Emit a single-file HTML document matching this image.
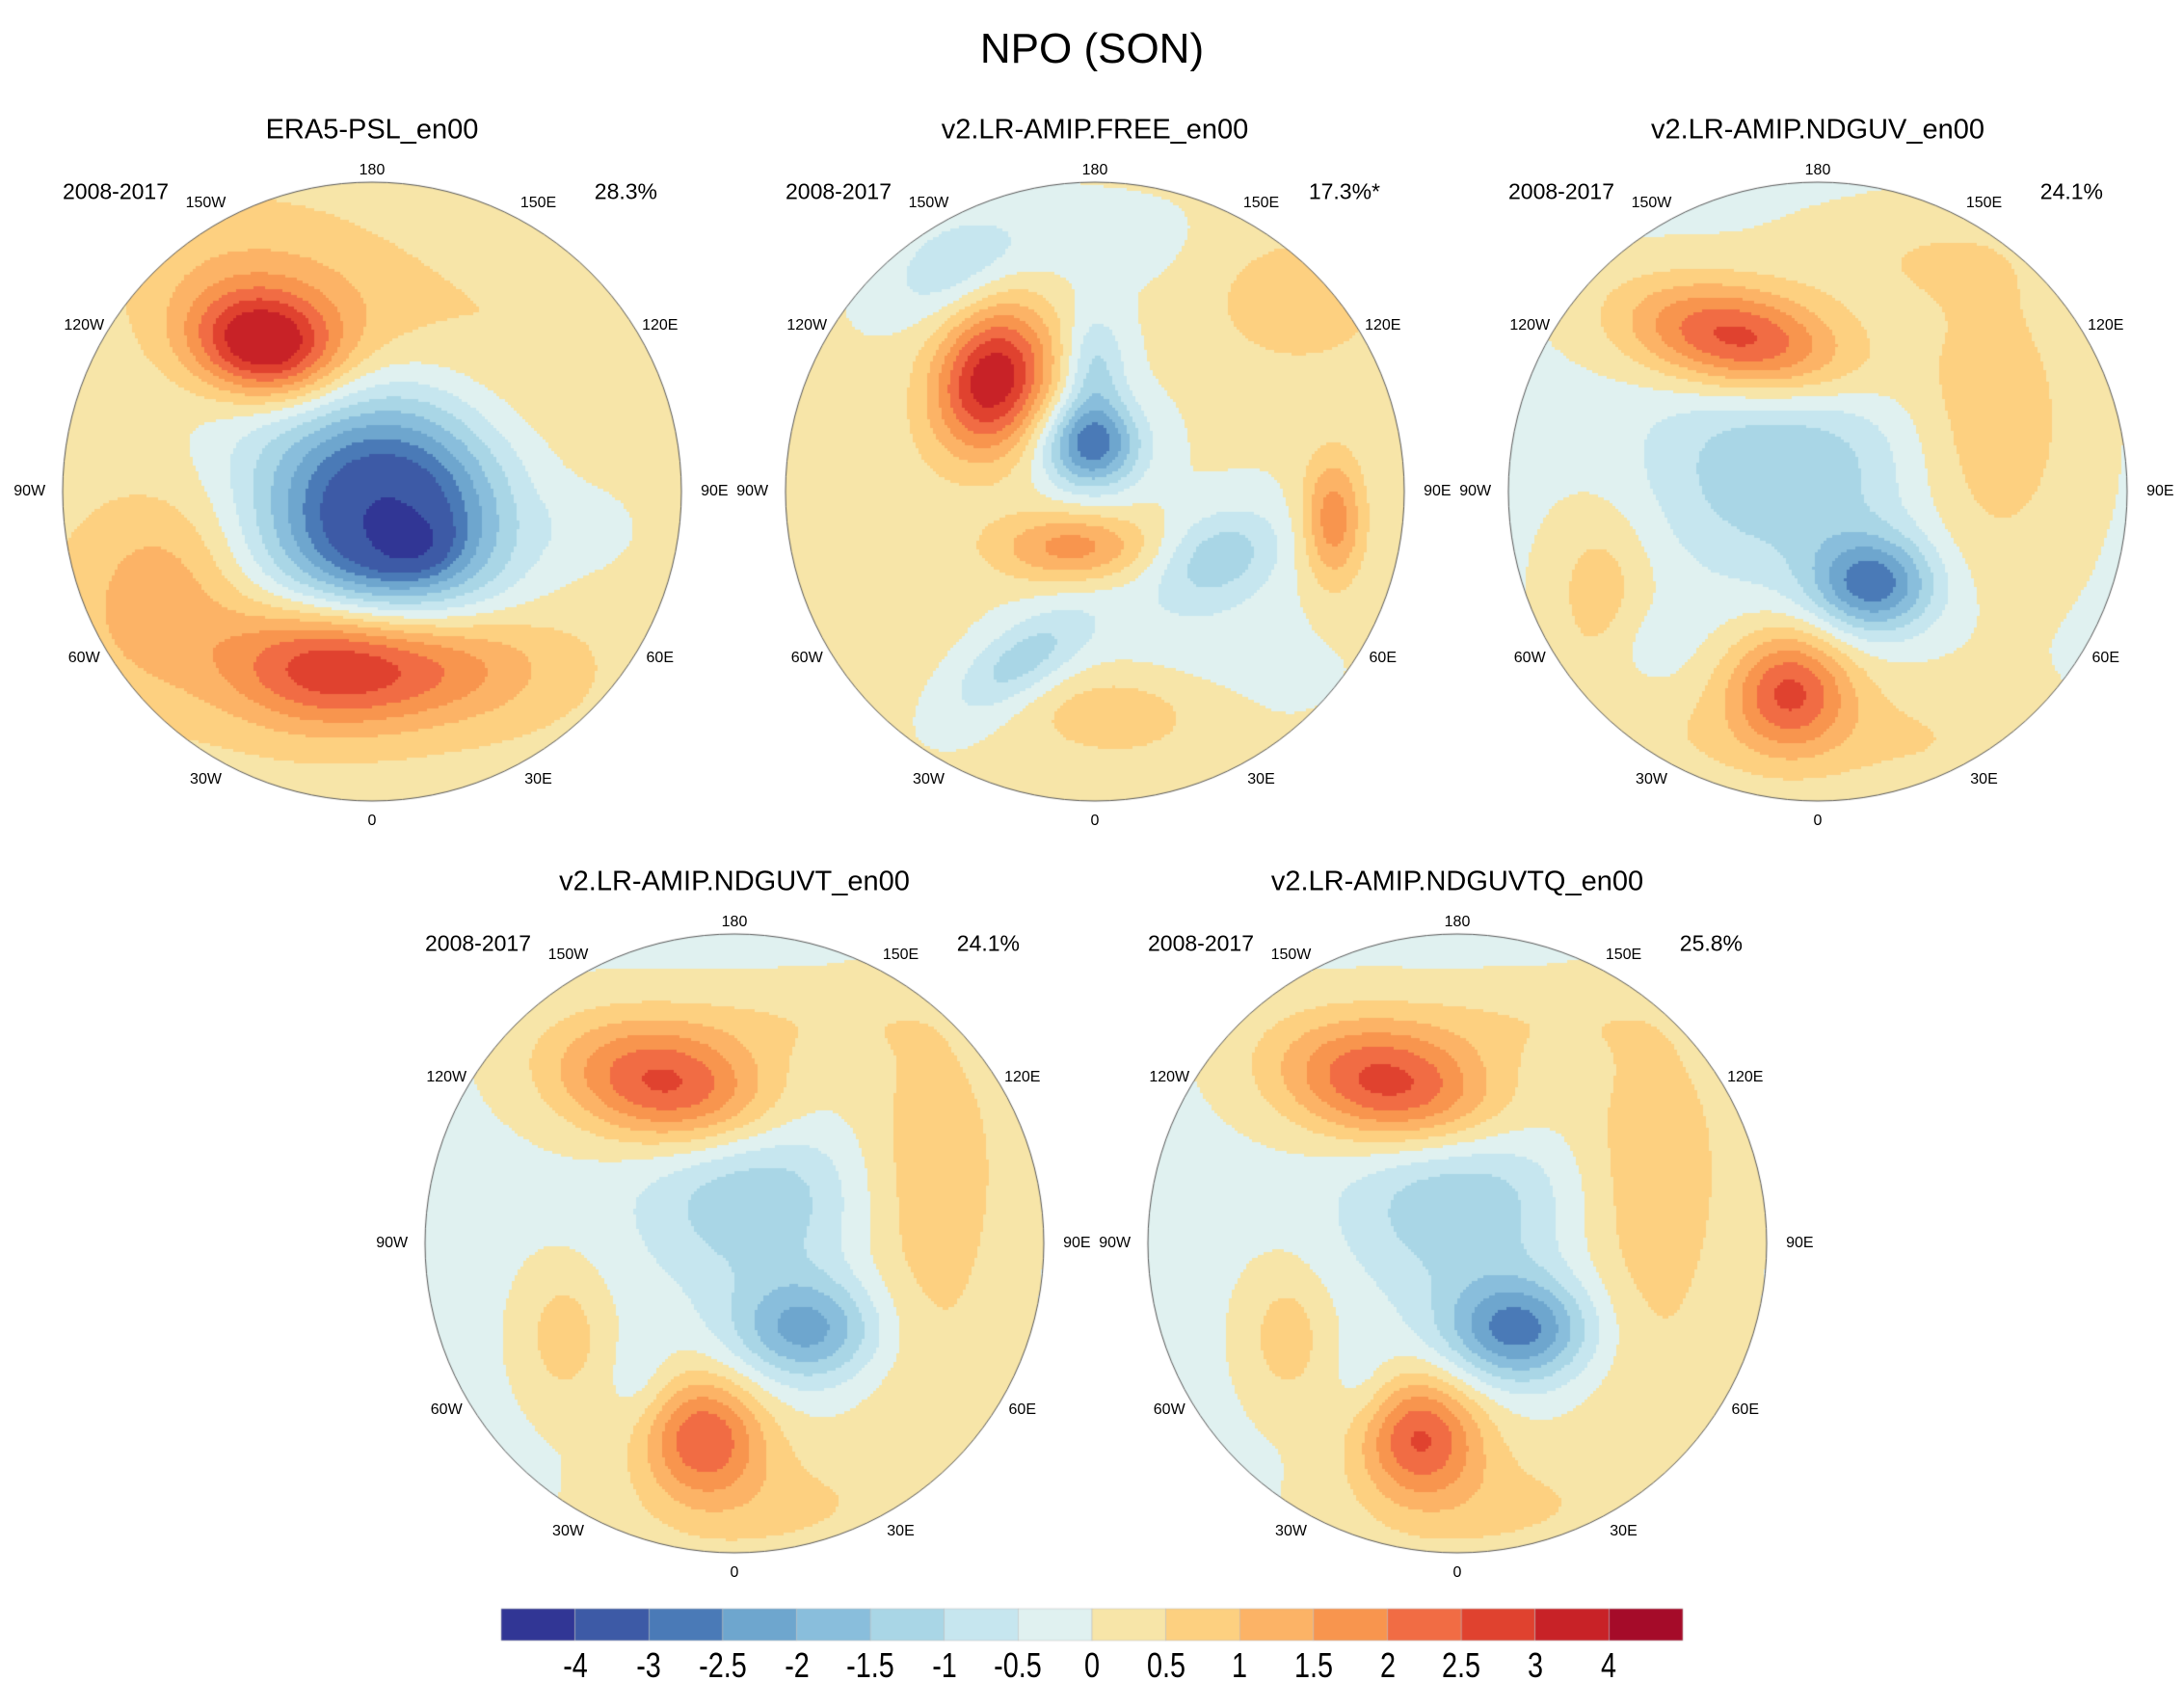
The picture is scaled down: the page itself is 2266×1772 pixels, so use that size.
<!DOCTYPE html>
<html><head><meta charset="utf-8"><style>
body{margin:0;background:#fff;width:2266px;height:1772px;overflow:hidden;position:relative;font-family:"Liberation Sans",sans-serif;}
canvas{position:absolute;left:0;top:0}
.t{position:absolute;white-space:nowrap;color:#000}
</style></head><body>
<canvas id="cv" width="2266" height="1772"></canvas>
<div id="lab"></div>
<script>
// contour levels and colours
const levels=[-4,-3,-2.5,-2,-1.5,-1,-0.5,0,0.5,1,1.5,2,2.5,3,4];
const colors=["#313695","#3d5aa6","#4a7ab7","#6ea6ce","#89bedc","#a9d6e6","#c6e6ef","#e0f1f0","#f7e5a8","#fdd080","#fcb366","#f8954e","#f16c44","#e0422f","#c82227","#a50b29"];
const tickLabels=["-4","-3","-2.5","-2","-1.5","-1","-0.5","0","0.5","1","1.5","2","2.5","3","4"];
const panelTitles=["ERA5-PSL_en00","v2.LR-AMIP.FREE_en00","v2.LR-AMIP.NDGUV_en00","v2.LR-AMIP.NDGUVT_en00","v2.LR-AMIP.NDGUVTQ_en00"];
const panelPct=["28.3%","17.3%*","24.1%","24.1%","25.8%"];
const lonLabels=["0","30E","60E","90E","120E","150E","180","150W","120W","90W","60W","30W"];
// anomaly blobs per panel: [x, y, amplitude, sx, sy, rotation] in unit-disk coords
const base=[0.3,0.05,-0.1,-0.12,-0.12];
const blobs1=[[-0.35,-0.47,3.3,0.17,0.12,0.2],[-0.2,-0.6,1.0,0.35,0.18,0.3],[0.08,0.1,-3.2,0.26,0.26,0],[0.13,0.17,-1.0,0.08,0.06,0],[-0.1,0.02,-1.4,0.35,0.35,0],[-0.14,0.55,3.0,0.25,0.15,0],[0.25,0.55,1.5,0.25,0.14,0],[-0.66,0.3,1.2,0.2,0.25,0.5],[0.45,-0.3,0.3,0.2,0.3,0],[0.72,0.12,-0.4,0.12,0.1,0]];
const blobs2=[[-0.33,-0.36,3.4,0.13,0.17,0.3],[-0.01,-0.15,-2.8,0.11,0.1,0],[0,-0.4,-1.2,0.07,0.13,0],[-0.07,0.18,1.7,0.18,0.08,0],[-0.24,0.55,-1.3,0.18,0.08,-0.6],[0.4,0.21,-1.3,0.15,0.1,-0.4],[0.77,0.09,1.8,0.07,0.15,0],[0.66,-0.62,0.9,0.2,0.15,0],[-0.46,-0.72,-0.9,0.16,0.1,-0.5],[0.07,0.72,0.9,0.2,0.1,0],[-0.75,0.25,0.3,0.2,0.3,0],[-0.1,-0.8,-0.3,0.3,0.1,0],[0.3,0.45,-0.3,0.3,0.2,0]];
const blobs3=[[-0.25,-0.49,3.0,0.26,0.12,0.2],[0.18,0.3,-2.6,0.14,0.11,0],[-0.11,-0.08,-1.4,0.3,0.25,0],[-0.09,0.64,2.5,0.14,0.14,0],[0.56,-0.22,1.0,0.2,0.35,0],[-0.7,0.32,0.9,0.12,0.2,0],[-0.55,0.5,-0.4,0.1,0.1,0],[0.3,0.8,0.6,0.3,0.15,0],[-0.5,0.8,0.5,0.3,0.15,0],[0.3,-0.75,0.5,0.3,0.12,0]];
const blobs4=[[-0.21,-0.51,2.9,0.26,0.14,0.2],[0.06,-0.17,-1.4,0.25,0.22,0],[0.24,0.28,-2.1,0.17,0.12,0],[-0.1,0.62,2.4,0.14,0.14,0],[0.64,-0.26,1.0,0.18,0.35,0],[-0.55,0.3,0.9,0.1,0.16,0],[-0.3,0.45,-0.4,0.07,0.1,0],[0.1,0.85,0.7,0.35,0.15,0],[0.6,0.4,0.4,0.2,0.3,0],[0.2,-0.72,0.5,0.3,0.1,0]];
const blobs5=[[-0.21,-0.51,3.0,0.26,0.14,0.2],[0.0,-0.15,-1.4,0.25,0.22,0],[0.2,0.28,-2.6,0.17,0.12,0],[-0.12,0.62,2.5,0.14,0.14,0],[0.64,-0.26,1.0,0.18,0.35,0],[-0.55,0.3,0.9,0.1,0.16,0],[-0.3,0.45,-0.4,0.07,0.1,0],[0.1,0.85,0.7,0.35,0.15,0],[0.6,0.4,0.4,0.2,0.3,0],[0.2,-0.72,0.5,0.3,0.1,0]];
const allBlobs=[blobs1,blobs2,blobs3,blobs4,blobs5];

const centers=[[386,510],[1136,510],[1886,510],[762,1290],[1512,1290]];
const R=321;
const cv=document.getElementById('cv'),ctx=cv.getContext('2d');
function field(bl,b,x,y){let v=b;for(const k of bl){const c=Math.cos(k[5]),s=Math.sin(k[5]);const dx=x-k[0],dy=y-k[1];const u=(dx*c+dy*s)/k[3],w=(-dx*s+dy*c)/k[4];v+=k[2]*Math.exp(-0.5*(u*u+w*w));}return v;}
function colorOf(v){let i=0;while(i<levels.length&&v>=levels[i])i++;return colors[i];}
const cell=3;
centers.forEach((c,p)=>{
  ctx.save();ctx.beginPath();ctx.arc(c[0],c[1],R,0,2*Math.PI);ctx.clip();
  for(let py=-R;py<R;py+=cell)for(let px=-R;px<R;px+=cell){
    const v=field(allBlobs[p],base[p],(px+cell/2)/R,(py+cell/2)/R);
    ctx.fillStyle=colorOf(v);ctx.fillRect(c[0]+px,c[1]+py,cell+0.5,cell+0.5);}
  ctx.restore();
  ctx.beginPath();ctx.arc(c[0],c[1],R,0,2*Math.PI);ctx.strokeStyle="#555";ctx.lineWidth=1;ctx.stroke();
});
// colorbar
const cbX=520,cbW=1226,cbY=1669,cbH=33,n=colors.length,bw=cbW/n;
colors.forEach((col,i)=>{ctx.fillStyle=col;ctx.fillRect(cbX+i*bw,cbY,bw,cbH);ctx.strokeStyle="#bbb";ctx.lineWidth=0.5;ctx.strokeRect(cbX+i*bw,cbY,bw,cbH);});

const lab=document.getElementById('lab');
function T(txt,x,y,size,anchor,name,extra){const d=document.createElement('div');d.className='t';d.textContent=txt;
d.style.fontSize=size+'px';d.style.left=x+'px';d.style.top=y+'px';
d.style.transform=(anchor==='c'?'translate(-50%,-50%)':anchor==='r'?'translate(-100%,-50%)':'translate(0,-50%)')+(extra||'');


lab.appendChild(d);return d;}
T("NPO (SON)",1133,51,44,'c','main-title');
centers.forEach((c,p)=>{
  T(panelTitles[p],c[0],c[1]-375,29,'c','panel-title');
  T("2008-2017",c[0]-321,c[1]-311,23,'l','period-label');
  T(panelPct[p],c[0]+296,c[1]-311,23,'r','variance-label');
  lonLabels.forEach((l,i)=>{const a=i*30*Math.PI/180;const r=(i===0)?342:(i===6?333:345);
    T(l,c[0]+r*Math.sin(a)*(i===3||i===9?1.03:1),c[1]+r*Math.cos(a),16,'c','longitude-label');});
});
tickLabels.forEach((l,i)=>{T(l,cbX+(i+1)*bw,1728,36,'c','colorbar-tick-label',' scaleX(0.8)');});
</script>
</body></html>
